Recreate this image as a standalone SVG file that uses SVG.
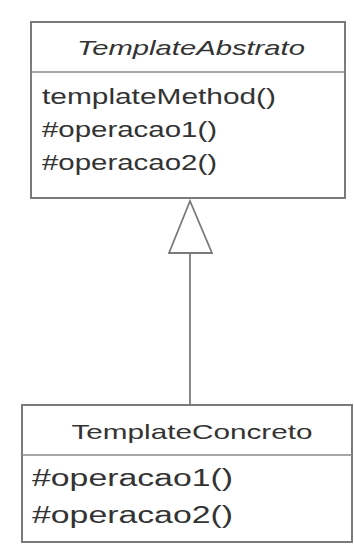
<svg xmlns="http://www.w3.org/2000/svg" width="354" height="550" viewBox="0 0 354 550">
  <defs>
    <style>
      .box { fill: #ffffff; stroke: #7a7a7a; stroke-width: 2; }
      .sep { stroke: #8a8a8a; stroke-width: 1.5; }
      .edge { fill: none; stroke: #7a7a7a; stroke-width: 1.8; }
      .head { fill: #ffffff; stroke: #7a7a7a; stroke-width: 1.8; stroke-linejoin: miter; }
      text { font-family: "Liberation Sans", Arial, sans-serif; fill: #333333; }
      .title { font-size: 21px; text-anchor: middle; }
      .op { font-size: 22px; }
      .op2 { font-size: 23px; }
    </style>
  </defs>
  <rect width="354" height="550" fill="#ffffff"/>

  <!-- Inheritance connector -->
  <g id="connectors">
    <line class="edge" x1="190" y1="253" x2="190" y2="405"/>
    <polygon class="head" points="190,201 169,253 212,253"/>
  </g>

  <!-- Abstract class -->
  <g id="TemplateAbstrato">
    <rect class="box" x="31" y="22" width="314" height="176"/>
    <line class="sep" x1="31" y1="72" x2="345" y2="72"/>
    <text class="title" x="191" y="55" font-style="italic" textLength="228" lengthAdjust="spacingAndGlyphs">TemplateAbstrato</text>
    <text class="op" x="42" y="104" textLength="234" lengthAdjust="spacingAndGlyphs">templateMethod()</text>
    <text class="op" x="42" y="137" textLength="175" lengthAdjust="spacingAndGlyphs">#operacao1()</text>
    <text class="op" x="42" y="170" textLength="175" lengthAdjust="spacingAndGlyphs">#operacao2()</text>
  </g>

  <!-- Concrete class -->
  <g id="TemplateConcreto">
    <rect class="box" x="22" y="405" width="330" height="137"/>
    <line class="sep" x1="22" y1="455" x2="352" y2="455"/>
    <text class="title" x="192" y="439" font-size="23" textLength="241" lengthAdjust="spacingAndGlyphs">TemplateConcreto</text>
    <text class="op2" x="32" y="486" textLength="201" lengthAdjust="spacingAndGlyphs">#operacao1()</text>
    <text class="op2" x="32" y="523" textLength="201" lengthAdjust="spacingAndGlyphs">#operacao2()</text>
  </g>
</svg>
